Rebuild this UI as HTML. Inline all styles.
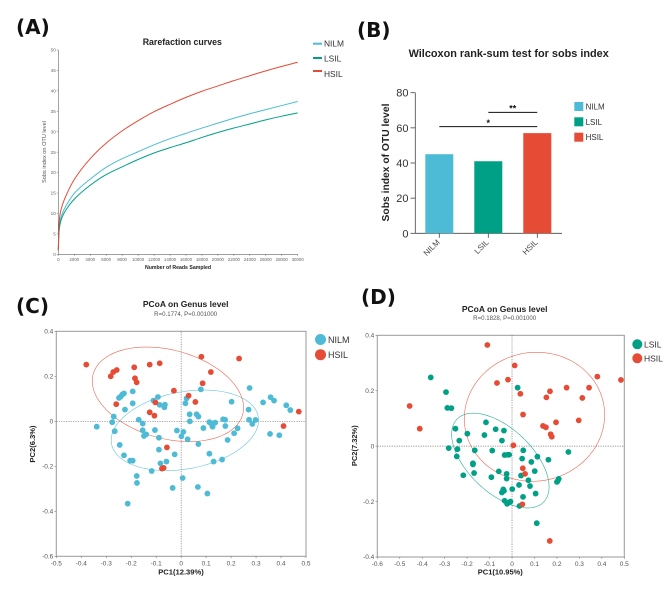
<!DOCTYPE html>
<html><head><meta charset="utf-8"><title>Microbiome figure</title>
<style>
html,body{margin:0;padding:0;background:#fff;width:669px;height:615px;overflow:hidden}
svg{display:block;font-family:"Liberation Sans",sans-serif;filter:blur(0.3px)}
.pl{font-family:"DejaVu Sans",sans-serif;font-weight:700;font-size:20px;fill:#111}
.b{font-weight:700;fill:#222}
</style></head><body>
<svg id="fig" xmlns="http://www.w3.org/2000/svg" width="669" height="615" viewBox="0 0 669 615">
<text class="pl" x="16" y="34">(A)</text>
<text class="pl" x="357" y="37">(B)</text>
<text class="pl" x="16" y="313">(C)</text>
<text class="pl" x="361" y="304">(D)</text>

<g id="pa">
<text class="b" x="182.3" y="45" font-size="8.8" text-anchor="middle">Rarefaction curves</text>
<text x="46" y="152" font-size="5.6" fill="#555" text-anchor="middle" transform="rotate(-90 46 152)">Sobs index on OTU level</text>
<text class="b" x="178" y="269" font-size="5.2" text-anchor="middle">Number of Reads Sampled</text>
<g>
<rect x="313" y="42.7" width="9" height="2" fill="#4DBBD5"/>
<text x="324" y="46.7" font-size="8.4" fill="#333">NILM</text>
<rect x="313" y="57" width="9" height="2" fill="#00A087"/>
<text x="324" y="61.3" font-size="8.4" fill="#333">LSIL</text>
<rect x="313" y="70" width="9" height="2" fill="#E64B35"/>
<text x="324" y="77" font-size="8.4" fill="#333">HSIL</text>
</g>
</g>

<g id="pb">
<text class="b" x="508.7" y="57" font-size="10.9" text-anchor="middle">Wilcoxon rank-sum test for sobs index</text>
<text class="b" x="389" y="162.5" font-size="10.3" text-anchor="middle" transform="rotate(-90 389 162.5)">Sobs index of OTU level</text>
<g>
<rect x="574.3" y="102" width="9" height="9" fill="#4DBBD5"/>
<text x="585.6" y="109.5" font-size="8" fill="#333">NILM</text>
<rect x="574.3" y="117.3" width="9" height="9" fill="#00A087"/>
<text x="585.6" y="125" font-size="8" fill="#333">LSIL</text>
<rect x="574.3" y="132.7" width="9" height="9" fill="#E64B35"/>
<text x="585.6" y="140" font-size="8" fill="#333">HSIL</text>
</g>
</g>

<g id="pc">
<text class="b" x="185.7" y="307" font-size="8.5" text-anchor="middle">PCoA on Genus level</text>
<text x="185.7" y="316" font-size="6.1" fill="#555" text-anchor="middle">R=0.1774, P=0.001000</text>
<text class="b" x="181" y="574.5" font-size="7.6" text-anchor="middle">PC1(12.39%)</text>
<text class="b" x="35" y="444" font-size="7.6" text-anchor="middle" transform="rotate(-90 35 444)">PC2(6.3%)</text>
<g>
<circle cx="320.5" cy="339.5" r="5.5" fill="#4DBBD5"/>
<text x="328" y="343" font-size="9" fill="#333">NILM</text>
<circle cx="320.5" cy="354.7" r="5.5" fill="#E64B35"/>
<text x="328" y="358" font-size="9" fill="#333">HSIL</text>
</g>
</g>

<g id="pd">
<text class="b" x="504.7" y="312" font-size="8.5" text-anchor="middle">PCoA on Genus level</text>
<text x="504.7" y="320" font-size="6.1" fill="#555" text-anchor="middle">R=0.1828, P=0.001000</text>
<text class="b" x="500.3" y="574.5" font-size="7.5" text-anchor="middle">PC1(10.95%)</text>
<text class="b" x="357" y="445.7" font-size="7.5" text-anchor="middle" transform="rotate(-90 357 445.7)">PC2(7.32%)</text>
<g>
<circle cx="637.3" cy="344.3" r="5" fill="#00A087"/>
<text x="644" y="347.5" font-size="8.5" fill="#333">LSIL</text>
<circle cx="637.3" cy="358.3" r="5" fill="#E64B35"/>
<text x="644" y="361.5" font-size="8.5" fill="#333">HSIL</text>
</g>
</g>
</svg>
<script>
// Panel A data
const rareDepths=[0,50,100,200,500,1000,2000,4000,6000,8000,10000,12000,14000,16000,18000,20000,22000,24000,26000,28000,30000];
const rareNILM=[1,4.4,6.3,8,10,12,14.9,18.4,21.3,23.4,25.1,26.8,28.3,29.6,30.9,32.1,33.3,34.4,35.4,36.4,37.4];
const rareLSIL=[1,4,5.6,7.2,9.2,11,13.5,16.9,19.5,21.4,23.2,24.8,26.1,27.3,28.6,29.8,30.9,31.9,32.9,33.8,34.6];
const rareHSIL=[1,5,7.5,9.6,12,14.5,18.3,23.4,27.2,30.2,32.7,34.9,36.7,38.4,39.9,41.2,42.5,43.7,44.9,46,47];
const rareXTicks=[0,2000,4000,6000,8000,10000,12000,14000,16000,18000,20000,22000,24000,26000,28000,30000];
const rareYTicks=[0,5,10,15,20,25,30,35,40,45,50];
// Panel B data
const barCategories=["NILM","LSIL","HSIL"];
const barValues=[45,41,57];
const barYTicks=[0,20,40,60,80];
const sigFrom=[0,1];
const sigTo=[2,2];
const sigLevel=[60.7,68.8];
const sigMark=["*","**"];
// Panel C data
const cNILM=[[-0.338,-0.024],[-0.276,-0.004],[-0.270,0.021],[-0.266,-0.044],[-0.246,-0.105],[-0.229,-0.151],[-0.204,-0.175],[-0.194,-0.175],[-0.178,-0.243],[-0.177,-0.274],[-0.214,-0.366],[-0.118,-0.221],[-0.083,-0.187],[-0.059,-0.179],[-0.089,-0.126],[-0.026,-0.147],[-0.034,-0.296],[0.006,-0.252],[0.067,-0.292],[0.105,-0.321],[0.130,-0.179],[0.113,-0.144],[0.164,-0.170],[0.186,-0.083],[0.212,-0.053],[0.226,-0.031],[0.177,-0.021],[0.069,-0.101],[0.026,-0.080],[0.001,-0.067],[0.009,-0.047],[-0.017,-0.041],[-0.089,-0.073],[-0.105,-0.039],[-0.140,-0.058],[-0.149,-0.065],[-0.154,-0.040],[-0.154,-0.010],[-0.170,0.007],[-0.225,0.052],[-0.194,0.080],[-0.194,0.133],[-0.229,0.124],[-0.236,0.119],[-0.242,0.110],[-0.249,0.104],[-0.111,0.092],[-0.093,0.108],[-0.086,0.073],[-0.065,0.074],[-0.067,0.062],[0.017,0.080],[0.022,0.102],[0.079,0.142],[0.034,0.031],[0.035,0],[0.062,0.031],[0.069,0.021],[0.089,-0.030],[0.113,-0.004],[0.121,-0.009],[0.126,-0.024],[0.123,-0.015],[0.136,-0.006],[0.168,0.009],[0.176,0.007],[0.202,0.087],[0.274,0.148],[0.270,0.052],[0.272,0.007],[0.285,-0.012],[0.298,0.006],[0.328,0.084],[0.358,0.107],[0.372,0.092],[0.421,0.071],[0.437,0.050],[0.356,-0.056],[0.393,-0.062]];
const cHSIL=[[-0.38,0.252],[-0.282,0.2],[-0.272,0.219],[-0.258,0.228],[-0.188,0.24],[-0.126,0.252],[-0.086,0.258],[0.081,0.287],[0.232,0.279],[0.119,0.219],[0.086,0.169],[-0.185,0.191],[-0.178,0.173],[-0.029,0.136],[0.03,0.114],[0.057,0.086],[-0.103,0.084],[-0.26,0.076],[-0.126,0.04],[-0.107,0.025],[0.471,0.043],[0.41,-0.021],[-0.057,-0.116],[-0.07,-0.207],[-0.077,-0.21]];
const cXTicks=[-0.5,-0.4,-0.3,-0.2,-0.1,0,0.1,0.2,0.3,0.4,0.5];
const cYTicks=[-0.6,-0.4,-0.2,0,0.2,0.4];
// centre x, centre y, half-width, half-height, correlation
const cEllipseNILM=[0.015,-0.04,0.295,0.179,0.249];
const cEllipseHSIL=[-0.053,0.12,0.303,0.21,-0.282];
// Panel D data
const dLSIL=[[-0.362,0.248],[-0.294,0.195],[-0.288,0.138],[-0.270,0.137],[-0.252,0.063],[-0.199,0.045],[-0.235,0.020],[-0.282,-0.007],[-0.243,-0.011],[-0.246,-0.037],[-0.166,-0.015],[-0.116,0.086],[-0.123,0.040],[-0.073,0.061],[-0.036,0.056],[-0.045,0.020],[-0.088,-0.016],[-0.033,-0.032],[-0.019,-0.031],[-0.013,-0.031],[0.050,-0.015],[0.045,-0.045],[0.113,-0.038],[0.162,-0.049],[0.086,-0.057],[0.101,-0.090],[0.251,-0.021],[0.025,0.211],[-0.174,-0.062],[-0.174,-0.066],[-0.169,-0.097],[-0.217,-0.105],[-0.092,-0.112],[-0.059,-0.091],[-0.024,-0.100],[-0.024,-0.117],[0.040,-0.106],[0.073,-0.123],[0.080,-0.144],[0.031,-0.140],[0.001,-0.155],[0.105,-0.171],[0.049,-0.183],[-0.039,-0.156],[-0.036,-0.161],[-0.045,-0.167],[-0.033,-0.197],[-0.007,-0.200],[-0.016,-0.204],[-0.022,-0.208],[0.033,-0.216],[0.110,-0.278],[0.200,-0.129],[0.208,-0.118],[0.203,-0.126]];
const dHSIL=[[-0.110,0.365],[0.012,0.291],[-0.018,0.240],[-0.067,0.228],[0.037,0.189],[0.169,0.198],[0.153,0.176],[0.243,0.211],[0.343,0.211],[0.380,0.251],[0.485,0.239],[0.313,0.174],[0.297,0.093],[0.196,0.086],[0.138,0.073],[0.151,0.068],[0.172,0.043],[0.177,0.034],[0.049,0.114],[0.006,0.003],[0.048,-0.080],[0.058,-0.100],[0.046,-0.210],[0.168,-0.342],[-0.456,0.145],[-0.411,0.063]];
const dXTicks=[-0.6,-0.5,-0.4,-0.3,-0.2,-0.1,0,0.1,0.2,0.3,0.4,0.5];
const dYTicks=[-0.4,-0.2,0,0.2,0.4];
const dEllipseLSIL=[-0.052,-0.052,0.217,0.171,-0.555];
const dEllipseHSIL=[0.1,0.106,0.3125,0.2328,0.03];

const BLUE="#4DBBD5",GREEN="#00A087",RED="#E64B35";
const NS="http://www.w3.org/2000/svg";
function mk(parent,tag,attrs,txt){
  const e=document.createElementNS(NS,tag);
  for(const k in attrs)e.setAttribute(k,attrs[k]);
  if(txt!==undefined)e.textContent=txt;
  parent.appendChild(e);
  return e;
}
function scale(d0,d1,r0,r1){return v=>r0+(v-d0)/(d1-d0)*(r1-r0);}
function fmt(v){return String(Math.round(v*10)/10);}
// Monotone cubic path through pixel points
function smoothPath(px,py){
  const n=px.length,dl=[],m=[];
  for(let i=0;i<n-1;i++)dl.push((py[i+1]-py[i])/(px[i+1]-px[i]));
  m[0]=dl[0];m[n-1]=dl[n-2];
  for(let i=1;i<n-1;i++){
    const h0=px[i]-px[i-1],h1=px[i+1]-px[i],w1=2*h1+h0,w2=h1+2*h0;
    m[i]=(w1+w2)/(w1/dl[i-1]+w2/dl[i]);
  }
  let d='M'+px[0].toFixed(2)+' '+py[0].toFixed(2);
  for(let i=0;i<n-1;i++){
    const h=(px[i+1]-px[i])/3;
    d+=' C'+(px[i]+h).toFixed(2)+' '+(py[i]+m[i]*h).toFixed(2)+' '+(px[i+1]-h).toFixed(2)+' '+(py[i+1]-m[i+1]*h).toFixed(2)+' '+px[i+1].toFixed(2)+' '+py[i+1].toFixed(2);
  }
  return d;
}

// ---------- Panel A ----------
(function(){
  const g=document.getElementById('pa');
  const x=scale(0,30000,58.3,297.7),y=scale(0,50,254.3,50);
  const xa=mk(g,'line',{x1:x(0),x2:x(30000),y1:y(0),y2:y(0),stroke:'#666','stroke-width':0.6});
  
  
  const ya=mk(g,'line',{x1:x(0),x2:x(0),y1:y(0),y2:y(50),stroke:'#666','stroke-width':0.6});
  
  
  rareXTicks.forEach(t=>{
    const m=mk(g,'line',{x1:x(t),x2:x(t),y1:y(0),y2:y(0)+1.5,stroke:'#666','stroke-width':0.5});
    
    
    const l=mk(g,'text',{x:x(t),y:y(0)+6.5,'font-size':4.4,fill:'#666','text-anchor':'middle'},String(t));
    
    
  });
  rareYTicks.forEach(t=>{
    const m=mk(g,'line',{x1:x(0)-1.5,x2:x(0),y1:y(t),y2:y(t),stroke:'#666','stroke-width':0.5});
    
    
    const l=mk(g,'text',{x:x(0)-2.5,y:y(t)+1.6,'font-size':4.6,fill:'#666','text-anchor':'end'},String(t));
    
    
  });
  [[rareNILM,BLUE,'curve-nilm'],[rareLSIL,GREEN,'curve-lsil'],[rareHSIL,RED,'curve-hsil']].forEach(s=>{
    const c=mk(g,'path',{d:smoothPath(rareDepths.map(x),s[0].map(y)),fill:'none',stroke:s[1],'stroke-width':1,'stroke-linejoin':'round'});
    
    
  });
})();

// ---------- Panel B ----------
(function(){
  const g=document.getElementById('pb');
  const y=scale(0,80,233.3,92.7);
  const cx=i=>439.3+i*49;
  const xa=mk(g,'line',{x1:415.3,x2:562,y1:y(0),y2:y(0),stroke:'#444','stroke-width':0.8});
  
  
  const ya=mk(g,'line',{x1:415.3,x2:415.3,y1:y(0),y2:y(80),stroke:'#444','stroke-width':0.8});
  
  
  barYTicks.forEach(t=>{
    const m=mk(g,'line',{x1:410.5,x2:415.3,y1:y(t),y2:y(t),stroke:'#444','stroke-width':0.8});
    
    
    const l=mk(g,'text',{x:408.5,y:y(t)+4,'font-size':11,fill:'#333','text-anchor':'end'},String(t));
    
    
  });
  const cols=[BLUE,GREEN,RED];
  barCategories.forEach((c,i)=>{
    const b=mk(g,'rect',{x:cx(i)-14,y:y(barValues[i]),width:28,height:y(0)-y(barValues[i]),fill:cols[i]});
    
    
    const m=mk(g,'line',{x1:cx(i),x2:cx(i),y1:y(0),y2:y(0)+4.5,stroke:'#444','stroke-width':0.8});
    
    
    const px=cx(i)+1,py=y(0)+9.5;
    const l=mk(g,'text',{x:px,y:py,'font-size':8,fill:'#444','text-anchor':'end',transform:'rotate(-45 '+px+' '+py+')'},c);
    
    
  });
  sigLevel.forEach((v,i)=>{
    const s=mk(g,'line',{x1:cx(sigFrom[i]),x2:cx(sigTo[i]),y1:y(v),y2:y(v),stroke:'#111','stroke-width':0.9});
    
    
    const t=mk(g,'text',{x:(cx(sigFrom[i])+cx(sigTo[i]))/2,y:y(v)-0.8,'font-size':9,'font-weight':700,fill:'#111','text-anchor':'middle'},sigMark[i]);
    
    
  });
})();

// ---------- Panels C / D ----------
function pcoa(gid,box,xd,yd,xTicks,yTicks,series){
  const g=document.getElementById(gid);
  const x=scale(xd[0],xd[1],box[0],box[1]),y=scale(yd[0],yd[1],box[2],box[3]);
  const frame=mk(g,'rect',{x:box[0],y:box[3],width:box[1]-box[0],height:box[2]-box[3],fill:'none',stroke:'#999','stroke-width':1});
  
  
  const h=mk(g,'line',{x1:box[0],x2:box[1],y1:y(0),y2:y(0),stroke:'#777','stroke-width':0.7,'stroke-dasharray':'1.2 1.2'});
  
  
  const v=mk(g,'line',{x1:x(0),x2:x(0),y1:box[2],y2:box[3],stroke:'#777','stroke-width':0.7,'stroke-dasharray':'1.2 1.2'});
  
  
  xTicks.forEach(t=>{
    const m=mk(g,'line',{x1:x(t),x2:x(t),y1:box[2],y2:box[2]+1.8,stroke:'#777','stroke-width':0.6});
    
    
    const l=mk(g,'text',{x:x(t),y:box[2]+9,'font-size':6.5,fill:'#555','text-anchor':'middle'},fmt(t));
    
    
  });
  yTicks.forEach(t=>{
    const m=mk(g,'line',{x1:box[0]-1.8,x2:box[0],y1:y(t),y2:y(t),stroke:'#777','stroke-width':0.6});
    
    
    const l=mk(g,'text',{x:box[0]-3,y:y(t)+2.2,'font-size':6.5,fill:'#555','text-anchor':'end'},fmt(t));
    
    
  });
  series.forEach(s=>{
    const el=s.ellipse,pts=[];
    const q=Math.sqrt(1-el[4]*el[4]);
    for(let a=0;a<120;a++){
      const t=a/120*2*Math.PI;
      const ex=el[0]+el[2]*Math.cos(t);
      const ey=el[1]+el[3]*(el[4]*Math.cos(t)+q*Math.sin(t));
      pts.push(x(ex).toFixed(2)+','+y(ey).toFixed(2));
    }
    const e=mk(g,'polygon',{points:pts.join(' '),fill:'none',stroke:s.color,'stroke-width':0.6,'stroke-opacity':0.85});
    
    
  });
  series.forEach(s=>{
    s.points.forEach(p=>{
      const c=mk(g,'circle',{cx:x(p[0]).toFixed(2),cy:y(p[1]).toFixed(2),r:2.9,fill:s.color});
      
      
    });
  });
}
pcoa('pc',[56.3,306,556.3,331.3],[-0.5,0.5],[-0.6,0.4],cXTicks,cYTicks,[
  {name:'nilm',color:BLUE,points:cNILM,ellipse:cEllipseNILM},
  {name:'hsil',color:RED,points:cHSIL,ellipse:cEllipseHSIL}]);
pcoa('pd',[377.3,624.3,557,335.3],[-0.6,0.5],[-0.4,0.4],dXTicks,dYTicks,[
  {name:'lsil',color:GREEN,points:dLSIL,ellipse:dEllipseLSIL},
  {name:'hsil',color:RED,points:dHSIL,ellipse:dEllipseHSIL}]);
</script>
</body></html>
